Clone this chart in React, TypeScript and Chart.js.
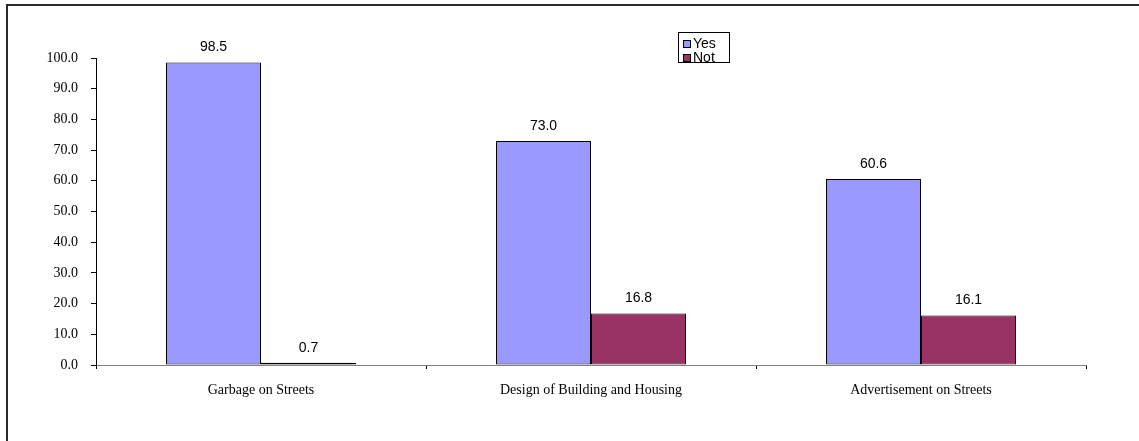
import React, { useEffect, useRef } from "react";
import { Chart, registerables } from "chart.js";

Chart.register(...registerables);

const categories = ["Garbage on Streets", "Design of Building and Housing", "Advertisement on Streets"];
const yesValues = [98.5, 73.0, 60.6];
const notValues = [0.7, 16.8, 16.1];
const seriesLabels = ["Yes", "Not"];
const seriesColors = ["#9999FF", "#993366"];

const W = 1139;
const H = 441;
const SANS = '"Liberation Sans", Arial, sans-serif';
const SERIF = '"Liberation Serif", "Times New Roman", serif';

const framePlugin = {
  id: "frame",
  beforeDraw(chart: any) {
    const ctx = chart.ctx;
    ctx.save();
    ctx.fillStyle = "#ffffff";
    ctx.fillRect(0, 0, chart.width, chart.height);
    ctx.strokeStyle = "#2a2a2a";
    ctx.lineWidth = 2;
    ctx.beginPath();
    ctx.moveTo(chart.width + 2, 5);
    ctx.lineTo(7, 5);
    ctx.lineTo(7, chart.height + 2);
    ctx.stroke();
    ctx.restore();
  },
};

const valueLabelPlugin = {
  id: "valueLabels",
  afterDatasetsDraw(chart: any) {
    const ctx = chart.ctx;
    ctx.save();
    ctx.font = `14px ${SANS}`;
    ctx.fillStyle = "#000000";
    ctx.textAlign = "center";
    ctx.textBaseline = "middle";
    chart.data.datasets.forEach((ds: any, i: number) => {
      const meta = chart.getDatasetMeta(i);
      meta.data.forEach((bar: any, j: number) => {
        const v = ds.data[j] as number;
        ctx.fillText(v.toFixed(1), bar.x, bar.y - 15);
      });
    });
    ctx.restore();
  },
};

const boxLegendPlugin = {
  id: "boxLegend",
  afterDraw(chart: any) {
    const ctx = chart.ctx;
    const left = 678.5;
    const top = 32.5;
    const width = 51;
    const rowH = 14;
    const height = 30;
    ctx.save();
    ctx.strokeStyle = "#000000";
    ctx.lineWidth = 1;
    ctx.fillStyle = "#ffffff";
    ctx.fillRect(left, top, width, height);
    ctx.strokeRect(left, top, width, height);
    ctx.font = `14px ${SANS}`;
    ctx.textBaseline = "middle";
    ctx.textAlign = "left";
    chart.data.datasets.forEach((ds: any, i: number) => {
      const cy = Math.round(top + 11 + i * rowH);
      ctx.fillStyle = ds.backgroundColor;
      ctx.fillRect(683.5, cy - 3.5, 7, 7);
      ctx.strokeRect(683.5, cy - 3.5, 7, 7);
      ctx.fillStyle = "#000000";
      ctx.fillText(ds.label, 693, cy + 0.5);
    });
    ctx.restore();
  },
};

export default function App() {
  const canvasRef = useRef<HTMLCanvasElement | null>(null);

  useEffect(() => {
    if (!canvasRef.current) return;
    const chart = new Chart(canvasRef.current, {
      type: "bar",
      data: {
        labels: categories,
        datasets: [
          {
            label: seriesLabels[0],
            data: yesValues,
            backgroundColor: seriesColors[0],
            borderColor: "#000000",
            borderWidth: 1,
            borderSkipped: false,
          },
          {
            label: seriesLabels[1],
            data: notValues,
            backgroundColor: seriesColors[1],
            borderColor: "#000000",
            borderWidth: 1,
            borderSkipped: false,
          },
        ],
      },
      options: {
        responsive: false,
        animation: false,
        devicePixelRatio: 1,
        layout: { padding: { left: 0, top: 58, right: 53, bottom: 36 } },
        plugins: {
          legend: { display: false },
          tooltip: { enabled: false },
          title: { display: false },
        },
        datasets: {
          // two 95px bars inside each 330px category slot
          bar: { barPercentage: 1, categoryPercentage: 190 / 330 },
        },
        scales: {
          x: {
            grid: {
              display: true,
              drawOnChartArea: false,
              drawTicks: true,
              tickLength: 4,
              color: "#000000",
              offset: true,
            },
            border: { display: true, color: "#808080", width: 1 },
            ticks: {
              color: "#000000",
              font: { family: SERIF, size: 14 },
              padding: 13,
              maxRotation: 0,
              autoSkip: false,
            },
            afterFit(scale: any) {
              scale.height = 40;
            },
          },
          y: {
            min: 0,
            max: 100,
            grid: {
              display: true,
              drawOnChartArea: false,
              drawTicks: true,
              tickLength: 5,
              color: "#000000",
            },
            border: { display: true, color: "#000000", width: 1 },
            ticks: {
              stepSize: 10,
              color: "#000000",
              font: { family: SERIF, size: 14 },
              padding: 13,
              callback: (v: any) => Number(v).toFixed(1),
            },
            afterFit(scale: any) {
              scale.width = 96;
            },
          },
        },
      },
      plugins: [framePlugin, valueLabelPlugin, boxLegendPlugin],
    });
    return () => chart.destroy();
  }, []);

  return (
    <div style={{ position: "fixed", left: 0, top: 0, width: W, height: H, background: "#fff" }}>
      <canvas ref={canvasRef} width={W} height={H} style={{ display: "block", width: W, height: H }} />
    </div>
  );
}
